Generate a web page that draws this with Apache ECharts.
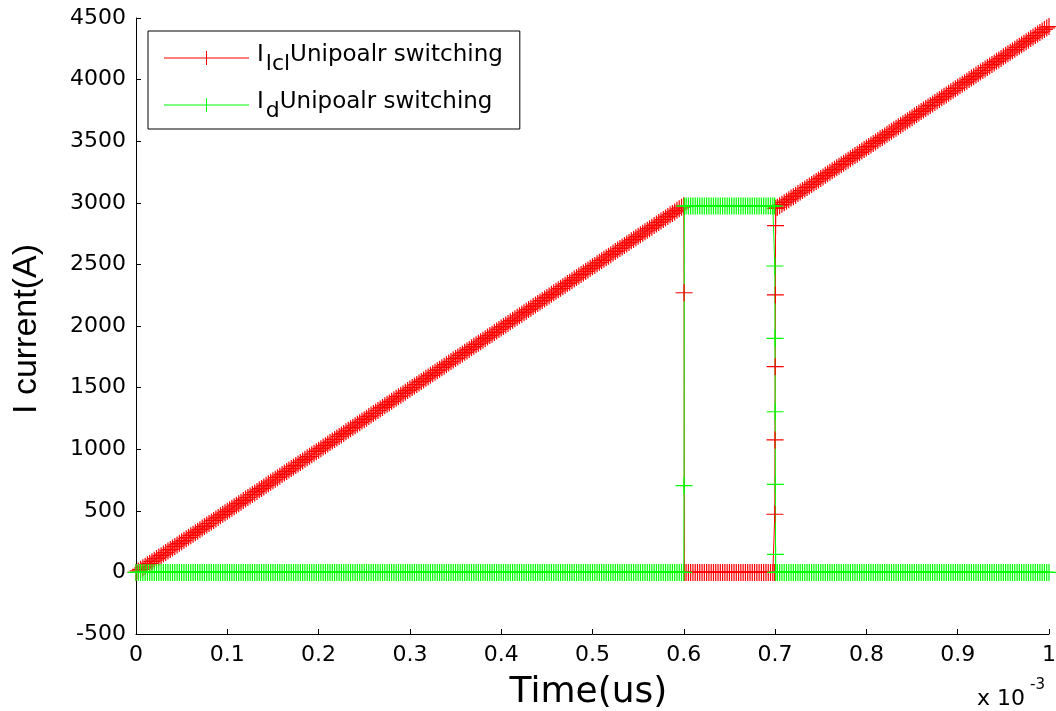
<!DOCTYPE html>
<html>
<head>
<meta charset="utf-8">
<script src="https://cdn.jsdelivr.net/npm/echarts@6/dist/echarts.min.js"></script>
<style>
html,body{margin:0;padding:0;background:#fff;}
#chart{width:1056px;height:711px;}
</style>
</head>
<body>
<div id="chart"></div>
<script>
// ---- time samples (x 10^-3) ----
const tRamp1 = [
0,0.0025,0.005,0.0075,0.01,0.0125,0.015,0.0175,0.02,0.0225,0.025,0.0275,0.03,0.0325,0.035,0.0375,0.04,0.0425,0.045,0.0475,
0.05,0.0525,0.055,0.0575,0.06,0.0625,0.065,0.0675,0.07,0.0725,0.075,0.0775,0.08,0.0825,0.085,0.0875,0.09,0.0925,0.095,0.0975,
0.1,0.1025,0.105,0.1075,0.11,0.1125,0.115,0.1175,0.12,0.1225,0.125,0.1275,0.13,0.1325,0.135,0.1375,0.14,0.1425,0.145,0.1475,
0.15,0.1525,0.155,0.1575,0.16,0.1625,0.165,0.1675,0.17,0.1725,0.175,0.1775,0.18,0.1825,0.185,0.1875,0.19,0.1925,0.195,0.1975,
0.2,0.2025,0.205,0.2075,0.21,0.2125,0.215,0.2175,0.22,0.2225,0.225,0.2275,0.23,0.2325,0.235,0.2375,0.24,0.2425,0.245,0.2475,
0.25,0.2525,0.255,0.2575,0.26,0.2625,0.265,0.2675,0.27,0.2725,0.275,0.2775,0.28,0.2825,0.285,0.2875,0.29,0.2925,0.295,0.2975,
0.3,0.3025,0.305,0.3075,0.31,0.3125,0.315,0.3175,0.32,0.3225,0.325,0.3275,0.33,0.3325,0.335,0.3375,0.34,0.3425,0.345,0.3475,
0.35,0.3525,0.355,0.3575,0.36,0.3625,0.365,0.3675,0.37,0.3725,0.375,0.3775,0.38,0.3825,0.385,0.3875,0.39,0.3925,0.395,0.3975,
0.4,0.4025,0.405,0.4075,0.41,0.4125,0.415,0.4175,0.42,0.4225,0.425,0.4275,0.43,0.4325,0.435,0.4375,0.44,0.4425,0.445,0.4475,
0.45,0.4525,0.455,0.4575,0.46,0.4625,0.465,0.4675,0.47,0.4725,0.475,0.4775,0.48,0.4825,0.485,0.4875,0.49,0.4925,0.495,0.4975,
0.5,0.5025,0.505,0.5075,0.51,0.5125,0.515,0.5175,0.52,0.5225,0.525,0.5275,0.53,0.5325,0.535,0.5375,0.54,0.5425,0.545,0.5475,
0.55,0.5525,0.555,0.5575,0.56,0.5625,0.565,0.5675,0.57,0.5725,0.575,0.5775,0.58,0.5825,0.585,0.5875,0.59,0.5925,0.595,0.5975,
0.6
];
const tSwitchOn = [0.6003,0.6006];
const tPlateau = [
0.6025,0.605,0.6075,0.61,0.6125,0.615,0.6175,0.62,0.6225,0.625,0.6275,0.63,0.6325,0.635,0.6375,0.64,0.6425,0.645,0.6475,0.65,
0.6525,0.655,0.6575,0.66,0.6625,0.665,0.6675,0.67,0.6725,0.675,0.6775,0.68,0.6825,0.685,0.6875,0.69,0.6925,0.695,0.6975
];
const tSwitchOff = [0.6995,0.6997,0.6999,0.7001,0.7003,0.7005,0.7007];
const tRamp2 = [
0.7025,0.705,0.7075,0.71,0.7125,0.715,0.7175,0.72,0.7225,0.725,0.7275,0.73,0.7325,0.735,0.7375,0.74,0.7425,0.745,0.7475,0.75,
0.7525,0.755,0.7575,0.76,0.7625,0.765,0.7675,0.77,0.7725,0.775,0.7775,0.78,0.7825,0.785,0.7875,0.79,0.7925,0.795,0.7975,0.8,
0.8025,0.805,0.8075,0.81,0.8125,0.815,0.8175,0.82,0.8225,0.825,0.8275,0.83,0.8325,0.835,0.8375,0.84,0.8425,0.845,0.8475,0.85,
0.8525,0.855,0.8575,0.86,0.8625,0.865,0.8675,0.87,0.8725,0.875,0.8775,0.88,0.8825,0.885,0.8875,0.89,0.8925,0.895,0.8975,0.9,
0.9025,0.905,0.9075,0.91,0.9125,0.915,0.9175,0.92,0.9225,0.925,0.9275,0.93,0.9325,0.935,0.9375,0.94,0.9425,0.945,0.9475,0.95,
0.9525,0.955,0.9575,0.96,0.9625,0.965,0.9675,0.97,0.9725,0.975,0.9775,0.98,0.9825,0.985,0.9875,0.99,0.9925,0.995,0.9975,1.0
];

// ---- I_lcl (A) ----
const iLclRamp1 = [
0,12,25,37,50,62,74,87,99,112,124,136,149,161,174,186,198,211,223,236,
248,260,273,285,298,310,322,335,347,360,372,384,397,409,422,434,446,459,471,484,
496,508,521,533,546,558,570,583,595,608,620,632,645,657,670,682,694,707,719,732,
744,756,769,781,794,806,818,831,843,856,868,880,893,905,918,930,942,955,967,980,
992,1004,1017,1029,1042,1054,1066,1079,1091,1104,1116,1128,1141,1153,1166,1178,1190,1203,1215,1228,
1240,1252,1265,1277,1290,1302,1314,1327,1339,1352,1364,1376,1389,1401,1414,1426,1438,1451,1463,1476,
1488,1500,1513,1525,1538,1550,1562,1575,1587,1600,1612,1624,1637,1649,1662,1674,1686,1699,1711,1724,
1736,1748,1761,1773,1786,1798,1810,1823,1835,1848,1860,1872,1885,1897,1910,1922,1934,1947,1959,1972,
1984,1996,2009,2021,2034,2046,2058,2071,2083,2096,2108,2120,2133,2145,2158,2170,2182,2195,2207,2220,
2232,2244,2257,2269,2282,2294,2306,2319,2331,2344,2356,2368,2381,2393,2406,2418,2430,2443,2455,2468,
2480,2492,2505,2517,2530,2542,2554,2567,2579,2592,2604,2616,2629,2641,2654,2666,2678,2691,2703,2716,
2728,2740,2753,2765,2778,2790,2802,2815,2827,2840,2852,2864,2877,2889,2902,2914,2926,2939,2951,2964,
2976
];
const iLclSwitchOn = [2270,0];
const iLclPlateau = [
0,0,0,0,0,0,0,0,0,0,0,0,0,0,0,0,0,0,0,0,
0,0,0,0,0,0,0,0,0,0,0,0,0,0,0,0,0,0,0
];
const iLclSwitchOff = [0,472,1075,1670,2252,2814,2955];
const iLclRamp2 = [
2964,2976,2988,3001,3013,3025,3038,3050,3062,3075,3087,3099,3112,3124,3136,3149,3161,3173,3186,3198,
3210,3223,3235,3247,3260,3272,3284,3297,3309,3321,3334,3346,3358,3371,3383,3395,3408,3420,3432,3445,
3457,3469,3482,3494,3506,3519,3531,3543,3556,3568,3580,3593,3605,3617,3630,3642,3654,3667,3679,3691,
3704,3716,3728,3741,3753,3765,3778,3790,3802,3815,3827,3839,3852,3864,3876,3889,3901,3913,3926,3938,
3950,3963,3975,3987,4000,4012,4024,4037,4049,4061,4074,4086,4098,4111,4123,4135,4148,4160,4172,4185,
4197,4209,4222,4234,4246,4259,4271,4283,4296,4308,4320,4333,4345,4357,4370,4382,4394,4407,4419,4431
];

// ---- I_d (A) ----
const iDRamp1 = [
0,0,0,0,0,0,0,0,0,0,0,0,0,0,0,0,0,0,0,0,
0,0,0,0,0,0,0,0,0,0,0,0,0,0,0,0,0,0,0,0,
0,0,0,0,0,0,0,0,0,0,0,0,0,0,0,0,0,0,0,0,
0,0,0,0,0,0,0,0,0,0,0,0,0,0,0,0,0,0,0,0,
0,0,0,0,0,0,0,0,0,0,0,0,0,0,0,0,0,0,0,0,
0,0,0,0,0,0,0,0,0,0,0,0,0,0,0,0,0,0,0,0,
0,0,0,0,0,0,0,0,0,0,0,0,0,0,0,0,0,0,0,0,
0,0,0,0,0,0,0,0,0,0,0,0,0,0,0,0,0,0,0,0,
0,0,0,0,0,0,0,0,0,0,0,0,0,0,0,0,0,0,0,0,
0,0,0,0,0,0,0,0,0,0,0,0,0,0,0,0,0,0,0,0,
0,0,0,0,0,0,0,0,0,0,0,0,0,0,0,0,0,0,0,0,
0,0,0,0,0,0,0,0,0,0,0,0,0,0,0,0,0,0,0,0,
0
];
const iDSwitchOn = [704,2974];
const iDPlateau = [
2974,2974,2974,2974,2974,2974,2974,2974,2974,2974,2974,2974,2974,2974,2974,2974,2974,2974,2974,2974,
2974,2974,2974,2974,2974,2974,2974,2974,2974,2974,2974,2974,2974,2974,2974,2974,2974,2974,2974
];
const iDSwitchOff = [2974,2487,1900,1304,715,147,0];
const iDRamp2 = [
0,0,0,0,0,0,0,0,0,0,0,0,0,0,0,0,0,0,0,0,
0,0,0,0,0,0,0,0,0,0,0,0,0,0,0,0,0,0,0,0,
0,0,0,0,0,0,0,0,0,0,0,0,0,0,0,0,0,0,0,0,
0,0,0,0,0,0,0,0,0,0,0,0,0,0,0,0,0,0,0,0,
0,0,0,0,0,0,0,0,0,0,0,0,0,0,0,0,0,0,0,0,
0,0,0,0,0,0,0,0,0,0,0,0,0,0,0,0,0,0,0,0
];

const xTicks = [0,0.1,0.2,0.3,0.4,0.5,0.6,0.7,0.8,0.9,1];
const yTicks = [-500,0,500,1000,1500,2000,2500,3000,3500,4000,4500];
const seriesNames = ['Ilcl','Id'];

const time = [].concat(tRamp1, tSwitchOn, tPlateau, tSwitchOff, tRamp2);
const iLcl = [].concat(iLclRamp1, iLclSwitchOn, iLclPlateau, iLclSwitchOff, iLclRamp2);
const iD = [].concat(iDRamp1, iDSwitchOn, iDPlateau, iDSwitchOff, iDRamp2);

const crossSym = 'path://M-0.5,-7L0.5,-7L0.5,-0.5L7,-0.5L7,0.5L0.5,0.5L0.5,7L-0.5,7L-0.5,0.5L-7,0.5L-7,-0.5L-0.5,-0.5Z';
const legendIcon = 'path://M0,6.5L85,6.5L85,7.5L0,7.5Z M42,0L43,0L43,14L42,14Z';
const FONT = 'DejaVu Sans';

const chart = echarts.init(document.getElementById('chart'));
const pairs = arr => time.map((t, i) => [t, arr[i]]);

chart.setOption({
  animation: false,
  backgroundColor: '#fff',
  grid: { left: 136, right: 7, top: 18, bottom: 77, containLabel: false, outerBoundsMode: 'none' },
  xAxis: {
    type: 'value', min: xTicks[0], max: xTicks[xTicks.length - 1], interval: 0.1,
    name: 'Time(us)', nameLocation: 'middle', nameGap: 41,
    nameTextStyle: { fontFamily: FONT, fontSize: 36, color: '#000', padding: [0, 8, 0, 0] },
    axisLine: { show: true, onZero: false, lineStyle: { color: '#000', width: 1 } },
    axisTick: { show: true, inside: true, length: 5, lineStyle: { color: '#000' } },
    axisLabel: { fontFamily: FONT, fontSize: 22, color: '#000', margin: 10, formatter: v => String(v) },
    splitLine: { show: false }
  },
  yAxis: {
    type: 'value', min: yTicks[0], max: yTicks[yTicks.length - 1], interval: 500,
    name: 'I current(A)', nameLocation: 'middle', nameGap: 92, nameRotate: 90,
    nameTextStyle: { fontFamily: 'Liberation Sans', fontSize: 34, color: '#000', padding: [0, 6, 0, 0] },
    axisLine: { show: true, onZero: false, lineStyle: { color: '#000', width: 1 } },
    axisTick: { show: true, inside: true, length: 5, lineStyle: { color: '#000' } },
    axisLabel: { fontFamily: FONT, fontSize: 22, color: '#000', margin: 10, formatter: v => String(v) },
    splitLine: { show: false }
  },
  legend: {
    orient: 'vertical', left: 148, top: 31,
    padding: [13, 17, 7, 16], itemGap: 16, itemWidth: 85, itemHeight: 14,
    borderColor: '#000', borderWidth: 1, backgroundColor: '#fff',
    data: [{ name: seriesNames[0], icon: legendIcon }, { name: seriesNames[1], icon: legendIcon }],
    formatter: n => n === 'Ilcl' ? '{i|I}{s|lcl}{m|Unipoalr switching}' : '{i|I}{s|d}{m|Unipoalr switching}',
    textStyle: {
      fontFamily: FONT, fontSize: 23, color: '#000',
      rich: {
        i: { fontFamily: FONT, fontSize: 23, color: '#000', lineHeight: 28, verticalAlign: 'top', padding: [0, 0, 0, 3] },
        m: { fontFamily: FONT, fontSize: 23, color: '#000', lineHeight: 28, verticalAlign: 'top' },
        s: { fontFamily: FONT, fontSize: 22, color: '#000', lineHeight: 28, verticalAlign: 'top', padding: [9, 0, 0, 2] }
      }
    }
  },
  graphic: [
    { type: 'text', left: 977, top: 688, style: { text: 'x 10', font: '22px "DejaVu Sans"', fill: '#000' } },
    { type: 'text', left: 1030, top: 678, style: { text: '-3', font: '15px "DejaVu Sans"', fill: '#000' } }
  ],
  series: [
    {
      name: seriesNames[0], type: 'line', data: pairs(iLcl),
      symbol: crossSym, symbolSize: 17, showSymbol: true,
      itemStyle: { color: '#ff0000' },
      lineStyle: { color: '#ff0000', width: 1 },
      emphasis: { disabled: true }
    },
    {
      name: seriesNames[1], type: 'line', data: pairs(iD),
      symbol: crossSym, symbolSize: 17, showSymbol: true,
      itemStyle: { color: '#00ff00' },
      lineStyle: { color: '#00ff00', width: 1 },
      emphasis: { disabled: true }
    }
  ]
});
</script>
</body>
</html>
